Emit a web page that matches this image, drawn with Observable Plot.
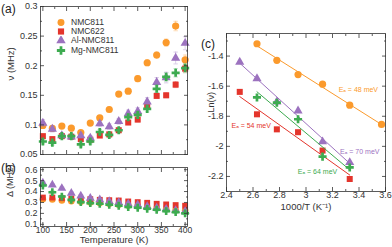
<!DOCTYPE html>
<html><head><meta charset="utf-8">
<script src="https://cdn.jsdelivr.net/npm/d3@7"></script>
<script src="https://cdn.jsdelivr.net/npm/@observablehq/plot@0.6"></script>
<style>
body{margin:0;background:#fff;font-family:"Liberation Sans",Arial,sans-serif;}
#wrap{position:relative;width:392px;height:247px;overflow:hidden;background:#fff;}
.pane{position:absolute;}
.lab{position:absolute;font-size:12px;color:#222;line-height:12px;}
#legend{position:absolute;left:54px;top:18px;font-size:8.5px;line-height:9.2px;color:#333;}
#legend div{display:flex;align-items:center;height:9.2px;}
#legend svg{width:14px;height:9px;margin-right:3px;}
</style></head><body><div id="wrap"></div>
<script>
// ---------- data ----------
const temps = [100,120,140,160,180,200,220,240,260,280,300,320,340,360,380,400];
const names = ["NMC811","NMC622","Al-NMC811","Mg-NMC811"];
const colors = ["#fb9a2c","#e4352c","#9c72bf","#3dab50"];
const symbols = ["circle","square","triangle","cross"];

// panel (a): nu (MHz)
const nu811  = [0.099,0.094,0.098,0.0945,0.087,0.103,0.112,0.126,0.152,0.157,0.178,0.205,0.218,0.239,0.267,0.210];
const nu622  = [0.081,0.076,0.081,0.080,0.076,0.075,0.082,0.084,0.091,0.104,0.109,0.132,0.149,0.150,0.168,0.195];
const nuAl   = [0.103,0.093,0.082,0.080,0.082,0.078,0.102,0.097,0.106,0.119,0.123,0.139,0.172,0.180,0.213,0.238];
const nuMg   = [0.072,0.070,0.081,0.081,0.067,0.072,0.088,0.083,0.091,0.113,0.117,0.127,0.161,0.181,0.188,0.196];
const err811 = [0.004,0.003,0.003,0.003,0.003,0.003,0.004,0.004,0.004,0.004,0.005,0.005,0.005,0.006,0.008,0.008];
const err622 = [0.003,0.003,0.003,0.003,0.003,0.003,0.003,0.003,0.003,0.003,0.004,0.004,0.004,0.004,0.005,0.006];
const errAl  = [0.006,0.005,0.004,0.004,0.004,0.004,0.005,0.005,0.005,0.006,0.006,0.007,0.008,0.009,0.010,0.011];
const errMg  = [0.004,0.004,0.004,0.004,0.004,0.004,0.004,0.004,0.004,0.005,0.005,0.005,0.006,0.007,0.007,0.008];

// panel (b): Delta (MHz)
const d811 = [0.330,0.327,0.318,0.312,0.306,0.300,0.294,0.288,0.279,0.273,0.267,0.258,0.250,0.242,0.233,0.227];
const d622 = [0.345,0.345,0.339,0.336,0.333,0.330,0.324,0.321,0.318,0.309,0.303,0.297,0.288,0.282,0.276,0.270];
const dAl  = [0.479,0.460,0.430,0.385,0.360,0.340,0.325,0.310,0.300,0.288,0.279,0.264,0.250,0.240,0.227,0.218];
const dMg  = [0.455,0.394,0.354,0.324,0.303,0.294,0.288,0.279,0.270,0.258,0.252,0.242,0.233,0.221,0.212,0.200];
const dErr = 0.012;

// panel (c): Ln(nu) vs 1000/T
const invT811 = [2.63,2.78,2.94,3.125,3.33,3.57];
const ln811   = [-1.318,-1.428,-1.523,-1.587,-1.726,-1.854];
const invT622 = [2.5,2.63,2.78,2.94,3.125,3.33];
const ln622   = [-1.638,-1.787,-1.887,-1.906,-2.028,-2.217];
const invTAl  = [2.5,2.63,2.78,2.94,3.125,3.33];
const lnAl    = [-1.44,-1.549,-1.704,-1.764,-1.969,-2.107];
const invTMg  = [2.63,2.78,2.94,3.125,3.33];
const lnMg    = [-1.675,-1.71,-1.82,-2.068,-2.14];
const eaLabels = ["Eₐ = 48 meV","Eₐ = 54 meV","Eₐ = 70 meV","Eₐ = 64 meV"];

// ticks
const aYTicks = [0.05,0.1,0.15,0.2,0.25,0.3];
const bYTicks = [0.1,0.2,0.3,0.4,0.5,0.6];
const tTicks  = [100,150,200,250,300,350,400];
const cXTicks = [2.4,2.6,2.8,3,3.2,3.4,3.6];
const cYTicks = [-2.2,-2,-1.8,-1.6,-1.4];

// ---------- build ----------
const nuArr = [nu811,nu622,nuAl,nuMg], errArr=[err811,err622,errAl,errMg];
const dArr = [d811,d622,dAl,dMg];
const invArr = [invT811,invT622,invTAl,invTMg], lnArr=[ln811,ln622,lnAl,lnMg];

const hline = {draw(ctx, size){const r=Math.sqrt(size/Math.PI); ctx.moveTo(-r,0); ctx.lineTo(r,0);}};
const INK = "#333";
const FONT = "Liberation Sans, Arial, sans-serif";

function boxAxes(xMajor,xMinor,yMajor,yMinor){
  const m=[Plot.frame({stroke:INK,strokeWidth:0.8})];
  for(const a of ["top","bottom"]){
    m.push(Plot.axisX(xMajor,{anchor:a,tickSize:-4,fill:"none",label:null,stroke:INK,strokeWidth:0.8}));
    m.push(Plot.axisX(xMinor,{anchor:a,tickSize:-2,fill:"none",label:null,stroke:INK,strokeWidth:0.8}));
  }
  for(const a of ["left","right"]){
    m.push(Plot.axisY(yMajor,{anchor:a,tickSize:-4,fill:"none",label:null,stroke:INK,strokeWidth:0.8}));
    m.push(Plot.axisY(yMinor,{anchor:a,tickSize:-2,fill:"none",label:null,stroke:INK,strokeWidth:0.8}));
  }
  return m;
}
function minors(lo,hi,step){const r=[];for(let v=lo; v<=hi+1e-9; v+=step) r.push(+v.toFixed(4));return r;}
const fmt = d=>String(d);

const wrap = document.getElementById("wrap");
function place(el,left,top){const d=document.createElement("div");d.className="pane";d.style.left=left+"px";d.style.top=top+"px";d.appendChild(el);wrap.appendChild(d);}

// panel (a)
{
  const marks=[];
  names.forEach((n,k)=>{
    const rows=temps.map((t,i)=>({T:t,v:nuArr[k][i],e:errArr[k][i]}));
    marks.push(Plot.ruleX(rows,{x:"T",y1:d=>d.v-d.e,y2:d=>d.v+d.e,stroke:colors[k],strokeOpacity:0.35,strokeWidth:1}));
    marks.push(Plot.dot(rows,{x:"T",y:d=>d.v+d.e,symbol:hline,r:2.2,stroke:colors[k],strokeOpacity:0.35,strokeWidth:1}));
    marks.push(Plot.dot(rows,{x:"T",y:d=>d.v-d.e,symbol:hline,r:2.2,stroke:colors[k],strokeOpacity:0.35,strokeWidth:1}));
    marks.push(Plot.dot(rows,{x:"T",y:"v",symbol:symbols[k],fill:colors[k],r:k===0?3.6:3.4}));
  });
  const p=Plot.plot({
    width:200,height:160,marginLeft:40,marginRight:13,marginTop:6,marginBottom:6,
    style:{fontFamily:FONT,fontSize:"9px",color:INK,background:"transparent",overflow:"visible"},
    x:{domain:[95,405],axis:null},
    y:{domain:[0.05,0.3],axis:null},
    marks:[
      ...marks,
      ...boxAxes(tTicks,minors(125,375,50),aYTicks,minors(0.075,0.275,0.05)),
      Plot.axisY(aYTicks,{anchor:"left",tickSize:0,tickPadding:3,tickFormat:fmt,label:null,fontSize:9}),
      Plot.text(["ν (MHz)"],{frameAnchor:"left",rotate:-90,dx:-30,fontSize:9.5,fill:INK})
    ]
  });
  place(p,0,0);
}

// panel (b)
{
  const marks=[];
  names.forEach((n,k)=>{
    const rows=temps.map((t,i)=>({T:t,v:dArr[k][i]}));
    marks.push(Plot.ruleX(rows,{x:"T",y1:d=>d.v-dErr,y2:d=>d.v+dErr,stroke:colors[k],strokeOpacity:0.3,strokeWidth:1}));
    marks.push(Plot.dot(rows,{x:"T",y:d=>d.v+dErr,symbol:hline,r:2.5,stroke:colors[k],strokeOpacity:0.3,strokeWidth:1}));
    marks.push(Plot.dot(rows,{x:"T",y:d=>d.v-dErr,symbol:hline,r:2.5,stroke:colors[k],strokeOpacity:0.3,strokeWidth:1}));
    marks.push(Plot.dot(rows,{x:"T",y:"v",symbol:symbols[k],fill:colors[k],r:3.3}));
  });
  const p=Plot.plot({
    width:200,height:87,marginLeft:40,marginRight:13,marginTop:7,marginBottom:21,
    style:{fontFamily:FONT,fontSize:"9px",color:INK,background:"transparent",overflow:"visible"},
    x:{domain:[95,405],axis:null},
    y:{domain:[0.08,0.62],axis:null},
    marks:[
      ...marks,
      ...boxAxes(tTicks,minors(125,375,50),bYTicks,minors(0.15,0.55,0.1)),
      Plot.axisY(bYTicks,{anchor:"left",tickSize:0,tickPadding:3,tickFormat:fmt,label:null,fontSize:9}),
      Plot.axisX(tTicks,{anchor:"bottom",tickSize:0,tickPadding:0,tickFormat:fmt,label:null,fontSize:8.5}),
      Plot.text(["Δ (MHz)"],{frameAnchor:"left",rotate:-90,dx:-30,fontSize:9,fill:INK}),
      Plot.text(["Temperature (K)"],{frameAnchor:"bottom",dy:16,fontSize:9.5,fill:INK})
    ]
  });
  place(p,0,160);
}

// panel (c)
{
  const marks=[];
  names.forEach((n,k)=>{
    const rows=invArr[k].map((x,i)=>({x,y:lnArr[k][i]}));
    marks.push(Plot.linearRegressionY(rows,{x:"x",y:"y",stroke:colors[k],ci:0,strokeWidth:1}));
    marks.push(Plot.dot(rows,{x:"x",y:"y",symbol:symbols[k],fill:colors[k],r:k===0?3.6:3.4}));
  });
  const p=Plot.plot({
    width:192,height:247,marginLeft:26,marginRight:7,marginTop:33,marginBottom:56,
    style:{fontFamily:FONT,fontSize:"9px",color:INK,background:"transparent",overflow:"visible"},
    x:{domain:[2.4,3.6],axis:null},
    y:{domain:[-2.3,-1.25],axis:null},
    marks:[
      ...marks,
      Plot.text([eaLabels[0]],{x:3.395,y:-1.627,fill:colors[0],fontSize:7}),
      Plot.text([eaLabels[1]],{x:2.586,y:-1.865,fill:colors[1],fontSize:7}),
      Plot.text([eaLabels[2]],{x:3.406,y:-2.037,fill:colors[2],fontSize:7}),
      Plot.text([eaLabels[3]],{x:3.087,y:-2.169,fill:colors[3],fontSize:7}),
      ...boxAxes(cXTicks,minors(2.5,3.5,0.2),cYTicks,minors(-2.3,-1.3,0.2)),
      Plot.axisY(cYTicks,{anchor:"left",tickSize:0,tickPadding:3,tickFormat:fmt,label:null,fontSize:9}),
      Plot.axisX(cXTicks,{anchor:"bottom",tickSize:0,tickPadding:0,tickFormat:fmt,label:null,fontSize:9}),
      Plot.text(["Ln(ν)"],{frameAnchor:"left",rotate:-90,dx:-15,fontSize:9,fill:INK}),
      Plot.text(["1000/T (K⁻¹)"],{frameAnchor:"bottom",dy:18,fontSize:9.5,fill:INK})
    ]
  });
  place(p,200,0);
}

// panel letters
[["(a)",1,3],["(b)",1,162],["(c)",201,38]].forEach(([t,l,tp])=>{
  const d=document.createElement("div");d.className="lab";d.textContent=t;d.style.left=l+"px";d.style.top=tp+"px";wrap.appendChild(d);
});

// legend
{
  const lg=document.createElement("div");lg.id="legend";
  const shapes={circle:d3.symbolCircle,square:d3.symbolSquare,triangle:d3.symbolTriangle,cross:d3.symbolCross};
  names.forEach((n,k)=>{
    const row=document.createElement("div");
    const path=d3.symbol(shapes[symbols[k]],38)();
    row.innerHTML=`<svg viewBox="-7 -4.5 14 9"><path d="${path}" fill="${colors[k]}"/></svg><span>${n}</span>`;
    lg.appendChild(row);
  });
  wrap.appendChild(lg);
}
</script></body></html>
